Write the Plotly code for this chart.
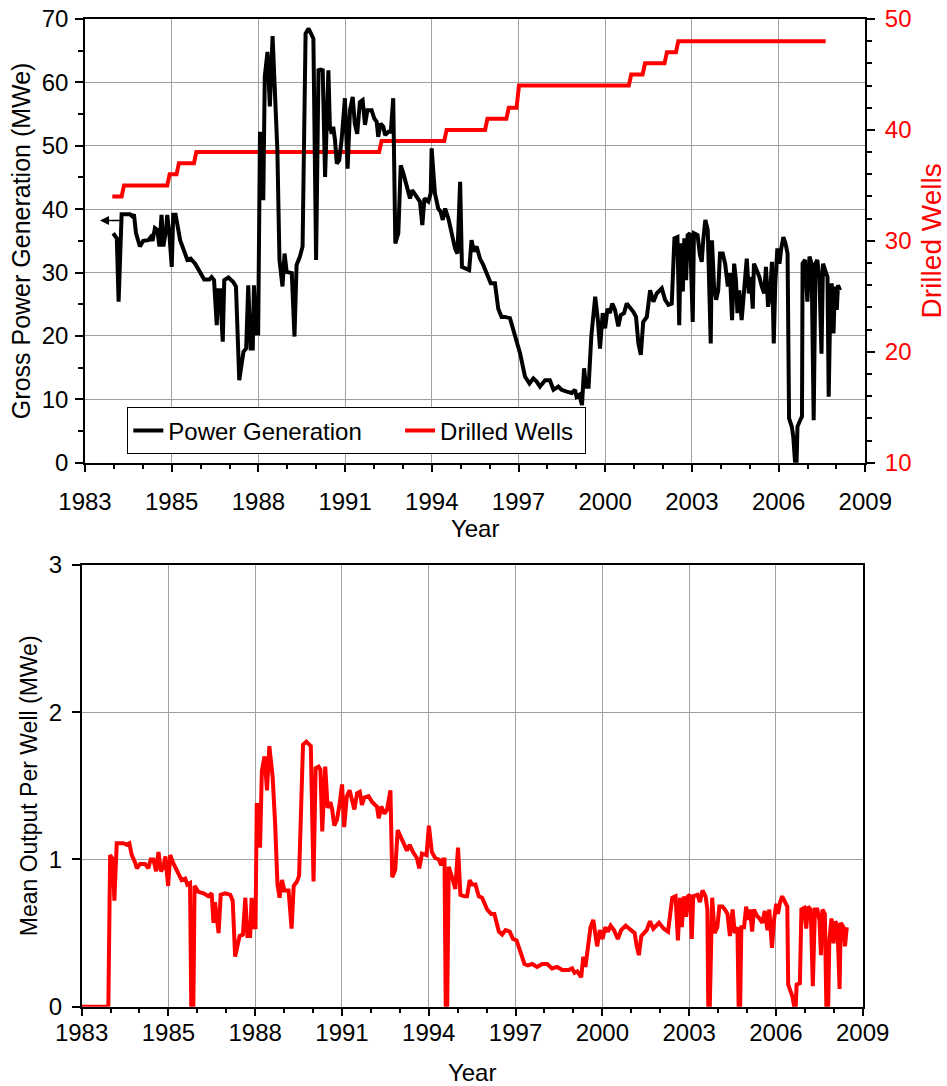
import plotly.graph_objects as go

# ---------------- data ----------------
tick_labels = ["1983", "1985", "1988", "1991", "1994", "1997", "2000", "2003", "2006", "2009"]

power_year = [1983.94, 1984.06, 1984.12, 1984.19, 1984.22, 1984.50, 1984.59, 1984.63, 1984.70, 1984.83,
              1984.94, 1985.11, 1985.19, 1985.25, 1985.33, 1985.41, 1985.48, 1985.55, 1985.61, 1985.70,
              1985.74, 1985.81, 1985.89, 1985.94, 1986.02, 1986.17, 1986.33, 1986.41, 1986.52, 1986.67,
              1986.83, 1986.97, 1987.14, 1987.22, 1987.30, 1987.39, 1987.44, 1987.50, 1987.59, 1987.64,
              1987.78, 1987.94, 1988.03, 1988.14, 1988.28, 1988.37, 1988.44, 1988.52, 1988.59, 1988.63,
              1988.70, 1988.77, 1988.83, 1988.90, 1988.94, 1988.99, 1989.08, 1989.16, 1989.25, 1989.33,
              1989.41, 1989.48, 1989.58, 1989.65, 1989.72, 1989.89, 1989.98, 1990.05, 1990.16, 1990.25,
              1990.35, 1990.45, 1990.61, 1990.70, 1990.78, 1990.85, 1990.92, 1991.00, 1991.05, 1991.11,
              1991.16, 1991.22, 1991.27, 1991.33, 1991.39, 1991.47, 1991.55, 1991.66, 1991.75, 1991.83,
              1991.92, 1991.99, 1992.07, 1992.16, 1992.25, 1992.33, 1992.41, 1992.55, 1992.64, 1992.72,
              1992.77, 1992.85, 1992.94, 1993.00, 1993.11, 1993.19, 1993.27, 1993.34, 1993.44, 1993.52,
              1993.61, 1993.72, 1993.83, 1993.90, 1994.05, 1994.16, 1994.24, 1994.31, 1994.44, 1994.52,
              1994.55, 1994.66, 1994.77, 1994.85, 1994.92, 1995.00, 1995.11, 1995.22, 1995.33, 1995.41,
              1995.45, 1995.50, 1995.56, 1995.66, 1995.80, 1995.88, 1995.96, 1996.05, 1996.16, 1996.27,
              1996.38, 1996.52, 1996.66, 1996.77, 1996.88, 1996.99, 1997.16, 1997.33, 1997.50, 1997.66,
              1997.81, 1997.94, 1998.05, 1998.16, 1998.33, 1998.49, 1998.61, 1998.77, 1998.88, 1999.05,
              1999.22, 1999.33, 1999.38, 1999.47, 1999.56, 1999.63, 1999.69, 1999.78, 1999.87, 2000.00,
              2000.09, 2000.16, 2000.25, 2000.33, 2000.41, 2000.49, 2000.57, 2000.66, 2000.77, 2000.85,
              2000.96, 2001.05, 2001.14, 2001.27, 2001.36, 2001.44, 2001.52, 2001.60, 2001.72, 2001.83,
              2001.94, 2002.05, 2002.22, 2002.33, 2002.44, 2002.55, 2002.64, 2002.74, 2002.80, 2002.85,
              2002.92, 2002.97, 2003.03, 2003.08, 2003.16, 2003.25, 2003.29, 2003.41, 2003.49, 2003.55,
              2003.60, 2003.67, 2003.75, 2003.79, 2003.85, 2003.89, 2003.96, 2004.03, 2004.10, 2004.16,
              2004.25, 2004.33, 2004.42, 2004.49, 2004.56, 2004.63, 2004.69, 2004.74, 2004.80, 2004.88,
              2004.96, 2005.05, 2005.12, 2005.18, 2005.25, 2005.29, 2005.38, 2005.47, 2005.55, 2005.63,
              2005.69, 2005.76, 2005.83, 2005.89, 2005.95, 2006.00, 2006.07, 2006.14, 2006.20, 2006.27,
              2006.34, 2006.41, 2006.46, 2006.55, 2006.60, 2006.66, 2006.71, 2006.74, 2006.83, 2006.89,
              2006.91, 2006.99, 2007.07, 2007.14, 2007.21, 2007.28, 2007.34, 2007.40, 2007.47, 2007.54,
              2007.59, 2007.67, 2007.74, 2007.78, 2007.83, 2007.88, 2007.94, 2007.99, 2008.05, 2008.09,
              2008.16]
power_mwe = [36.2, 35.4, 25.4, 35.1, 39.2, 39.2, 38.8, 39.2, 36.2, 34.1,
             35.0, 35.1, 35.6, 35.0, 37.0, 36.7, 34.1, 39.1, 34.1, 36.7,
             39.1, 36.2, 30.9, 39.1, 39.1, 35.1, 32.8, 32.0, 32.2, 31.4,
             30.1, 28.9, 28.9, 29.3, 28.8, 21.7, 27.2, 27.2, 19.1, 28.8,
             29.2, 28.5, 27.8, 13.0, 17.5, 18.0, 28.0, 18.0, 18.0, 28.0,
             20.4, 20.4, 51.9, 51.9, 41.4, 60.9, 64.8, 56.2, 67.3, 59.8,
             49.3, 32.0, 27.8, 33.0, 30.1, 29.9, 19.9, 31.2, 32.5, 34.1,
             67.7, 68.5, 66.9, 32.0, 61.9, 62.0, 61.9, 45.1, 53.0, 61.9,
             53.0, 51.9, 53.0, 50.9, 47.2, 47.7, 50.9, 57.5, 46.4, 55.6,
             57.7, 53.5, 51.9, 56.9, 57.2, 53.3, 55.6, 55.6, 54.3, 53.8,
             51.4, 53.5, 53.0, 51.7, 52.2, 52.2, 57.5, 34.6, 36.2, 46.9,
             45.6, 43.8, 41.7, 43.0, 42.0, 41.2, 37.5, 41.7, 41.2, 42.5,
             49.6, 42.5, 40.1, 39.6, 38.3, 40.1, 38.5, 36.2, 33.8, 33.0,
             37.2, 44.3, 30.9, 30.7, 30.4, 35.1, 33.3, 34.1, 32.2, 31.2,
             29.9, 28.3, 28.3, 24.3, 23.0, 23.0, 22.8, 20.1, 17.2, 13.6,
             12.5, 13.3, 12.8, 12.0, 13.0, 13.0, 11.5, 12.0, 11.5, 11.2,
             11.0, 11.5, 10.4, 10.7, 9.1, 14.9, 12.0, 12.0, 19.9, 26.2,
             22.5, 18.0, 23.6, 21.2, 24.3, 23.6, 25.1, 24.1, 21.5, 23.3,
             23.6, 25.1, 24.6, 23.8, 23.0, 18.8, 17.0, 22.2, 23.0, 27.2,
             25.4, 26.7, 27.5, 25.7, 24.9, 25.1, 35.4, 35.6, 21.7, 34.6,
             27.0, 35.4, 28.8, 35.9, 36.2, 22.2, 36.2, 35.9, 32.8, 31.7,
             35.1, 38.3, 36.7, 28.8, 18.8, 35.1, 27.8, 25.7, 27.2, 33.0,
             33.0, 31.4, 27.8, 29.9, 22.5, 31.4, 28.8, 23.6, 27.2, 22.5,
             27.2, 32.2, 26.7, 29.3, 24.3, 31.4, 30.4, 29.3, 27.8, 26.7,
             30.9, 24.6, 26.7, 31.7, 18.8, 28.3, 33.8, 31.4, 33.8, 35.6,
             34.6, 33.0, 7.0, 5.7, 4.1, 0.0, 0.0, 5.7, 6.7, 7.3,
             31.4, 32.0, 25.4, 32.5, 31.4, 6.7, 31.4, 32.0, 29.3, 17.2,
             31.4, 30.4, 29.3, 10.4, 24.1, 28.3, 20.4, 27.8, 24.1, 28.0,
             27.2]

wells_year = [1983.91, 1984.22, 1984.30, 1985.74, 1985.82, 1986.05, 1986.13, 1986.63, 1986.71,
              1992.80, 1992.88, 1994.97, 1995.05, 1996.33, 1996.41, 1997.04, 1997.12, 1997.38,
              1997.46, 2001.12, 2001.20, 2001.58, 2001.66, 2002.31, 2002.39, 2002.69, 2002.77, 2007.68]
wells_count = [34, 34, 35, 35, 36, 36, 37, 37, 38,
               38, 39, 39, 40, 40, 41, 41, 42, 42,
               44, 44, 45, 45, 46, 46, 47, 47, 48, 48]

output_year = [1983.00, 1983.89, 1983.95, 1984.04, 1984.09, 1984.17, 1984.39, 1984.50, 1984.59, 1984.67,
               1984.78, 1984.84, 1984.95, 1985.11, 1985.22, 1985.30, 1985.39, 1985.48, 1985.56, 1985.64,
               1985.71, 1985.79, 1985.88, 1985.95, 1986.04, 1986.17, 1986.33, 1986.45, 1986.52, 1986.61,
               1986.65, 1986.72, 1986.76, 1986.89, 1987.06, 1987.22, 1987.33, 1987.39, 1987.44, 1987.56,
               1987.63, 1987.78, 1987.95, 1988.03, 1988.11, 1988.26, 1988.37, 1988.45, 1988.52, 1988.61,
               1988.66, 1988.72, 1988.79, 1988.83, 1988.90, 1988.94, 1989.00, 1989.09, 1989.17, 1989.25,
               1989.36, 1989.44, 1989.52, 1989.59, 1989.67, 1989.75, 1989.89, 1989.99, 1990.06, 1990.17,
               1990.24, 1990.37, 1990.48, 1990.63, 1990.72, 1990.79, 1990.89, 1990.95, 1991.01, 1991.11,
               1991.19, 1991.28, 1991.34, 1991.41, 1991.50, 1991.59, 1991.67, 1991.74, 1991.83, 1991.92,
               1992.00, 1992.08, 1992.17, 1992.26, 1992.33, 1992.41, 1992.55, 1992.67, 1992.77, 1992.83,
               1992.89, 1992.98, 1993.08, 1993.17, 1993.28, 1993.34, 1993.44, 1993.52, 1993.63, 1993.72,
               1993.83, 1993.92, 1994.03, 1994.16, 1994.24, 1994.33, 1994.48, 1994.56, 1994.66, 1994.77,
               1994.89, 1994.97, 1995.03, 1995.08, 1995.12, 1995.17, 1995.22, 1995.33, 1995.44, 1995.53,
               1995.61, 1995.74, 1995.83, 1995.92, 1995.99, 1996.11, 1996.22, 1996.33, 1996.50, 1996.63,
               1996.74, 1996.89, 1997.00, 1997.11, 1997.25, 1997.36, 1997.48, 1997.61, 1997.74, 1997.85,
               1998.00, 1998.16, 1998.33, 1998.50, 1998.66, 1998.83, 1999.00, 1999.22, 1999.33, 1999.41,
               1999.50, 1999.63, 1999.70, 1999.77, 1999.83, 1999.94, 2000.03, 2000.16, 2000.25, 2000.34,
               2000.43, 2000.52, 2000.61, 2000.72, 2000.85, 2000.96, 2001.11, 2001.25, 2001.41, 2001.47,
               2001.55, 2001.63, 2001.74, 2001.81, 2001.92, 2002.03, 2002.22, 2002.38, 2002.52, 2002.66,
               2002.77, 2002.85, 2002.92, 2002.98, 2003.05, 2003.12, 2003.18, 2003.25, 2003.31, 2003.36,
               2003.50, 2003.58, 2003.67, 2003.77, 2003.83, 2003.86, 2003.91, 2003.94, 2003.99, 2004.07,
               2004.16, 2004.23, 2004.33, 2004.41, 2004.50, 2004.58, 2004.67, 2004.74, 2004.83, 2004.87,
               2004.92, 2004.96, 2005.05, 2005.12, 2005.18, 2005.25, 2005.32, 2005.38, 2005.47, 2005.56,
               2005.66, 2005.74, 2005.83, 2005.89, 2005.98, 2006.05, 2006.12, 2006.18, 2006.25, 2006.32,
               2006.41, 2006.49, 2006.52, 2006.61, 2006.66, 2006.72, 2006.77, 2006.80, 2006.91, 2006.96,
               2007.05, 2007.12, 2007.18, 2007.27, 2007.34, 2007.41, 2007.49, 2007.56, 2007.61, 2007.66,
               2007.74, 2007.79, 2007.85, 2007.89, 2007.96, 2008.03, 2008.09, 2008.16, 2008.23, 2008.27,
               2008.36, 2008.41, 2008.47]
output_mwe = [0.0, 0.0, 1.03, 1.00, 0.72, 1.11, 1.11, 1.10, 1.11, 1.03,
              0.98, 0.94, 0.97, 0.97, 0.94, 1.00, 1.00, 0.92, 1.05, 0.92,
              0.94, 1.02, 0.82, 1.03, 0.98, 0.92, 0.86, 0.87, 0.83, 0.84,
              0.0, 0.0, 0.82, 0.78, 0.77, 0.75, 0.77, 0.57, 0.71, 0.50,
              0.76, 0.77, 0.76, 0.72, 0.34, 0.48, 0.49, 0.74, 0.48, 0.48,
              0.74, 0.54, 0.54, 1.37, 1.37, 1.08, 1.60, 1.70, 1.47, 1.77,
              1.56, 1.25, 0.83, 0.74, 0.86, 0.79, 0.79, 0.53, 0.82, 0.85,
              0.89, 1.78, 1.80, 1.77, 0.85, 1.62, 1.63, 1.61, 1.19, 1.63,
              1.35, 1.39, 1.34, 1.23, 1.27, 1.38, 1.51, 1.22, 1.43, 1.47,
              1.39, 1.34, 1.45, 1.46, 1.37, 1.42, 1.43, 1.39, 1.37, 1.36,
              1.28, 1.36, 1.31, 1.34, 1.47, 0.88, 0.93, 1.20, 1.15, 1.11,
              1.06, 1.10, 1.05, 1.01, 0.94, 1.04, 1.03, 1.23, 1.05, 1.01,
              1.00, 0.96, 1.00, 1.00, 0.0, 0.0, 0.95, 0.88, 0.80, 1.08,
              0.76, 0.75, 0.75, 0.86, 0.83, 0.83, 0.75, 0.74, 0.66, 0.63,
              0.63, 0.51, 0.49, 0.52, 0.51, 0.46, 0.45, 0.37, 0.29, 0.28,
              0.29, 0.27, 0.29, 0.29, 0.26, 0.27, 0.25, 0.25, 0.26, 0.23,
              0.24, 0.20, 0.34, 0.27, 0.35, 0.54, 0.59, 0.41, 0.52, 0.46,
              0.54, 0.51, 0.55, 0.52, 0.46, 0.52, 0.55, 0.53, 0.50, 0.42,
              0.35, 0.48, 0.50, 0.52, 0.58, 0.53, 0.57, 0.53, 0.51, 0.74,
              0.75, 0.45, 0.74, 0.54, 0.75, 0.61, 0.75, 0.76, 0.46, 0.75,
              0.76, 0.71, 0.79, 0.75, 0.66, 0.0, 0.0, 0.38, 0.74, 0.50,
              0.54, 0.68, 0.68, 0.66, 0.63, 0.48, 0.66, 0.50, 0.54, 0.0,
              0.0, 0.54, 0.54, 0.68, 0.59, 0.66, 0.51, 0.66, 0.62, 0.60,
              0.57, 0.65, 0.52, 0.66, 0.40, 0.59, 0.70, 0.63, 0.71, 0.75,
              0.71, 0.68, 0.15, 0.10, 0.07, 0.0, 0.0, 0.15, 0.16, 0.66,
              0.67, 0.53, 0.68, 0.66, 0.14, 0.66, 0.66, 0.59, 0.35, 0.66,
              0.63, 0.0, 0.0, 0.45, 0.60, 0.43, 0.58, 0.55, 0.12, 0.57,
              0.54, 0.41, 0.54]

# ---------------- layout geometry ----------------
W, H = 947, 1086
X0, X1 = 1983.0, 2009.0
step = (X1 - X0) / (len(tick_labels) - 1)
tick_vals = [X0 + i * step for i in range(len(tick_labels))]
minor_vals = [X0 + i * step / 3 for i in range(3 * (len(tick_labels) - 1) + 1) if i % 3 != 0]

FONT = "Liberation Sans, Arial, sans-serif"
GRID = "#a0a0a0"
RED = "#ff0000"
NB = "\u00a0"

def px_x(a, b):
    return [a / W, b / W]

def px_y(top, bottom):
    return [1 - bottom / H, 1 - top / H]

fig = go.Figure()

fig.add_trace(go.Scatter(x=wells_year, y=wells_count, mode="lines", name="Drilled Wells" + NB,
                         line=dict(color=RED, width=4), xaxis="x", yaxis="y", legendrank=2))
fig.add_trace(go.Scatter(x=power_year, y=power_mwe, mode="lines", name="Power Generation" + NB * 5,
                         line=dict(color="black", width=4), xaxis="x", yaxis="y2", legendrank=1))
fig.add_trace(go.Scatter(x=output_year, y=output_mwe, mode="lines", name="Mean Output",
                         line=dict(color=RED, width=4), xaxis="x2", yaxis="y3", showlegend=False))

xcommon = dict(range=[X0, X1], tickmode="array", tickvals=tick_vals, ticktext=tick_labels,
               showgrid=True, gridcolor=GRID, gridwidth=1, zeroline=False, automargin=False,
               showline=True, linecolor="black", linewidth=1.5, mirror=True,
               ticks="outside", ticklen=8, tickwidth=1.5, tickcolor="black",
               minor=dict(tickvals=minor_vals, ticks="outside", ticklen=5, tickwidth=1.5,
                          tickcolor="black", showgrid=False),
               tickfont=dict(size=24, color="black", family=FONT))

fig.update_layout(
    width=W, height=H, margin=dict(l=0, r=0, t=0, b=0, autoexpand=False),
    paper_bgcolor="white", plot_bgcolor="white",
    font=dict(family=FONT, size=24, color="black"),
    xaxis=dict(domain=px_x(85, 865.3), anchor="y", ticklabelstandoff=9,
               title=dict(text="Year", font=dict(size=24), standoff=2), **xcommon),
    yaxis=dict(domain=px_y(19, 462.7), anchor="x", side="right", range=[10, 50],
               tickvals=[10, 20, 30, 40, 50], showgrid=False, zeroline=False, automargin=False,
               showline=True, linecolor="black", linewidth=1.5,
               ticks="outside", ticklen=8, tickwidth=1.5, tickcolor="black",
               minor=dict(dtick=2, ticks="outside", ticklen=5, tickwidth=1.5, tickcolor="black", showgrid=False),
               tickfont=dict(size=24, color=RED), ticklabelstandoff=5,
               title=dict(text="Drilled Wells", font=dict(size=28, color=RED), standoff=17)),
    yaxis2=dict(overlaying="y", anchor="x", side="left", range=[0, 70], tickvals=list(range(0, 71, 10)),
                showgrid=True, gridcolor=GRID, gridwidth=1, zeroline=False, automargin=False,
                showline=True, linecolor="black", linewidth=1.5,
                ticks="outside", ticklen=8, tickwidth=1.5, tickcolor="black",
                minor=dict(dtick=5, ticks="outside", ticklen=5, tickwidth=1.5, tickcolor="black", showgrid=False),
                tickfont=dict(size=24, color="black"), ticklabelstandoff=2,
                title=dict(text="Gross Power Generation (MWe)", font=dict(size=25), standoff=4)),
    xaxis2=dict(domain=px_x(81.6, 862.7), anchor="y3", ticklabelstandoff=-4,
                title=dict(text="Year", font=dict(size=24), standoff=22), **xcommon),
    yaxis3=dict(domain=px_y(565, 1006.7), anchor="x2", range=[0, 3], tickvals=[0, 1, 2, 3],
                showgrid=True, gridcolor=GRID, gridwidth=1, zeroline=False, automargin=False,
                showline=True, linecolor="black", linewidth=1.5, mirror=True,
                ticks="outside", ticklen=8, tickwidth=1.5, tickcolor="black",
                tickfont=dict(size=24, color="black"), ticklabelstandoff=5,
                title=dict(text="Mean Output Per Well (MWe)", font=dict(size=23), standoff=5)),
    legend=dict(orientation="h", x=127.3 / W, y=1 - 407.3 / H, xanchor="left", yanchor="top",
                bgcolor="white", bordercolor="black", borderwidth=1,
                font=dict(size=24, color="black", family=FONT)),
    showlegend=True,
)

fig.add_annotation(x=1983.50, y=38.2, xref="x", yref="y2", ax=23, ay=0, axref="pixel", ayref="pixel",
                   text="", showarrow=True, arrowhead=2, arrowsize=1.2, arrowwidth=1.5,
                   arrowcolor="black")

fig.write_html("out.html", config={"displayModeBar": False},
               post_script="document.body.style.margin='0px';")
